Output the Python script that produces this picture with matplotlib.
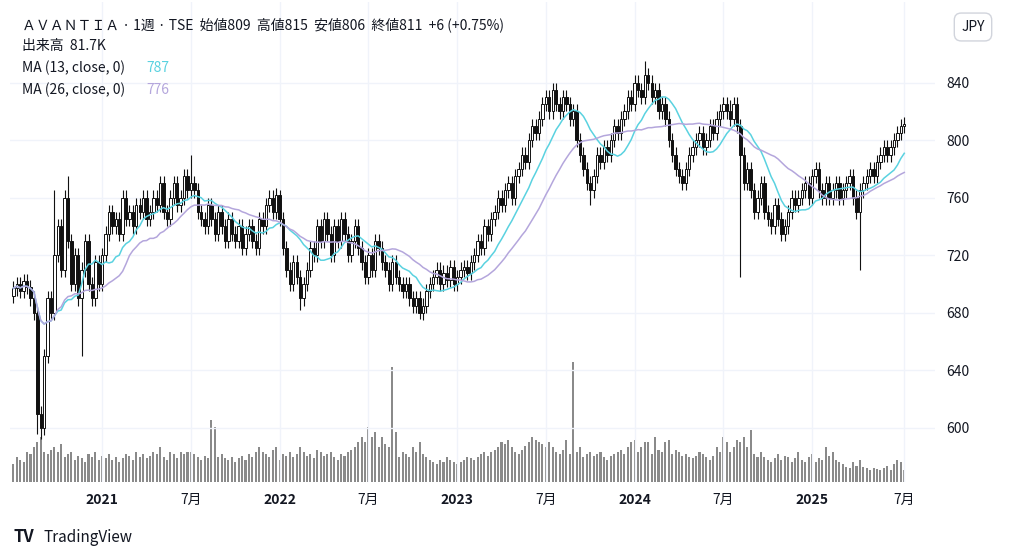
import matplotlib
matplotlib.use("Agg")
import matplotlib.pyplot as plt
import numpy as np
import pandas as pd
from matplotlib.patches import Rectangle

closes = [697,700,695,702,698,690,680,
 610,600,650,690,680,720,
 740,710,760,730,700,720,690,710,
 730,700,690,715,700,720,735,750,740,745,
 735,760,745,750,740,755,750,760,745,750,
 760,755,770,750,745,760,770,755,760,775,765,770,
 765,750,745,740,755,745,735,750,740,730,
 745,735,730,740,725,735,740,730,725,745,
 740,755,760,750,762,745,725,710,
 700,715,705,690,700,710,725,720,740,730,
 745,735,720,740,730,745,735,720,730,740,725,715,
 705,720,710,730,725,715,710,700,715,705,700,
 695,700,690,685,690,680,685,695,700,
 705,710,700,708,703,712,700,705,710,712,708,715,
 720,730,725,740,735,745,750,760,755,
 765,770,760,775,780,790,785,800,810,805,815,
 825,830,820,835,825,820,
 830,825,815,820,800,790,780,770,765,
 775,790,785,795,790,800,810,805,815,820,830,825,
 840,835,830,845,840,830,835,820,825,
 815,800,790,780,775,770,780,790,
 795,800,805,795,800,810,805,815,820,
 825,820,815,825,810,790,
 770,780,765,750,760,770,
 750,745,740,755,745,735,740,750,760,755,760,
 765,770,760,775,780,765,760,770,760,
 765,770,760,765,770,775,760,750,765,
 770,775,780,775,785,790,795,790,795,800,805,810,811]
first_open = 692
long_wicks_low = {7: 596, 8: 592, 20: 650, 84: 682, 119: 676, 169: 755, 213: 705, 248: 710}
long_wicks_high = {12: 765, 16: 775, 52: 790, 78: 765, 158: 840, 185: 855, 210: 828}
wick = 5
volumes = [18,25,22,20,30,28,35,
 40,45,30,28,32,35,
 30,38,25,28,30,22,26,24,
 20,28,25,30,22,26,24,28,22,25,
 20,24,28,26,22,30,25,28,24,26,
 30,28,35,25,22,30,28,24,30,28,30,30,
 28,25,22,26,24,20,22,25,28,24,
 22,25,20,24,26,22,28,25,30,35,
 30,28,25,32,35,22,28,26,
 30,25,28,35,30,26,28,24,32,30,
 26,28,30,25,22,28,26,30,32,35,40,45,
 40,42,45,38,35,33,38,35,30,28,25,
 30,28,25,35,30,40,28,25,22,
 20,18,22,20,25,22,20,18,20,22,25,24,
 22,25,28,30,26,30,32,35,40,
 38,42,35,30,28,32,36,40,45,42,40,
 38,35,40,35,30,28,
 32,30,28,26,30,35,25,28,30,
 26,28,30,25,22,26,28,30,32,28,35,40,
 42,30,35,40,30,28,45,32,30,
 40,35,28,32,30,26,28,25,
 24,26,30,28,25,22,26,35,30,
 45,40,30,35,42,40,
 40,35,30,28,25,30,
 25,22,20,24,28,22,26,25,20,24,30,
 22,20,25,28,20,24,22,20,26,
 30,22,20,18,15,14,20,16,22,
 15,14,12,14,13,12,14,16,12,18,22,20,12]
volume_spikes = {58: 62, 59: 55, 103: 40, 104: 55, 106: 50, 108: 45, 111: 115, 112: 50, 162: 42, 164: 120, 186: 40, 192: 42, 214: 45, 216: 52, 238: 35}

tick_pos = [26,52,78,104,130,156,182,208,234,261]
tick_labels = ["2021","7月","2022","7月","2023","7月","2024","7月","2025","7月"]
price_ticks = [600,640,680,720,760,800,840]

n = len(closes)
vols = list(volumes)
for k, v in volume_spikes.items():
    vols[k] = v
opens = [first_open] + closes[:-1]
highs = [long_wicks_high.get(i, max(o, c) + wick) for i, (o, c) in enumerate(zip(opens, closes))]
lows = [long_wicks_low.get(i, min(o, c) - wick) for i, (o, c) in enumerate(zip(opens, closes))]
s = pd.Series(closes)
ma13 = s.rolling(13, min_periods=1).mean()
ma26 = s.rolling(26, min_periods=1).mean()

plt.rcParams['font.family'] = ['Noto Sans CJK JP']
fig = plt.figure(figsize=(10.24, 5.58), dpi=100)
ax = fig.add_axes([10/1024, 1-482/558, 925/1024, 480/558])
axv = ax.twinx()
axv.set_zorder(0); ax.set_zorder(1); ax.patch.set_visible(False)

x = np.arange(n)
axv.bar(x, vols, width=0.6, color='#8a8a8a')
axv.set_ylim(0, 480)
axv.axis('off')

for i in range(n):
    o, c, h, l = opens[i], closes[i], highs[i], lows[i]
    ax.vlines(i, l, h, color='#111', lw=0.8, zorder=2)
    up = c >= o
    ax.add_patch(Rectangle((i-0.35, min(o, c)), 0.7, max(abs(c-o), 0.5),
                 facecolor='white' if up else '#111', edgecolor='#111', lw=0.7, zorder=3))
ax.plot(x, ma13, color='#5ad2e0', lw=1.1, zorder=4)
ax.plot(x, ma26, color='#b4a6dc', lw=1.1, zorder=4)

ax.set_xlim(-1, 270)
ax.set_ylim(562.4, 896)
ax.yaxis.tick_right()
ax.set_yticks(price_ticks)
ax.set_xticks(tick_pos)
ax.set_xticklabels(tick_labels)
for lab in ax.get_xticklabels():
    if lab.get_text().isdigit():
        lab.set_fontweight('bold')
ax.tick_params(length=0, labelsize=10, colors='#131722', pad=8)
ax.grid(color='#f0f3fa', lw=1)
for sp in ax.spines.values():
    sp.set_visible(False)
axv.spines[:].set_visible(False)

fig.text(22/1024, 1-25/558, "ＡＶＡＮＴＩＡ · 1週 · TSE  始値809  高値815  安値806  終値811  +6 (+0.75%)", fontsize=10, color='#131722', va='center')
fig.text(22/1024, 1-46/558, "出来高  81.7K", fontsize=10, color='#131722', va='center')
fig.text(22/1024, 1-68/558, "MA (13, close, 0)", fontsize=10, color='#131722', va='center')
fig.text(146/1024, 1-68/558, "787", fontsize=10, color='#5ad2e0', va='center')
fig.text(22/1024, 1-90/558, "MA (26, close, 0)", fontsize=10, color='#131722', va='center')
fig.text(146/1024, 1-90/558, "776", fontsize=10, color='#b4a6dc', va='center')
fig.text(973/1024, 1-27/558, "JPY", fontsize=10, color='#131722', ha='center', va='center',
         bbox=dict(boxstyle='round,pad=0.5', fc='white', ec='#d1d4dc'))
fig.text(14/1024, 1-537/558, "TV", fontsize=12, fontweight='bold', color='#131722', va='center')
fig.text(44/1024, 1-537/558, "TradingView", fontsize=11, color='#131722', va='center')
fig.savefig("out.png", dpi=100)
